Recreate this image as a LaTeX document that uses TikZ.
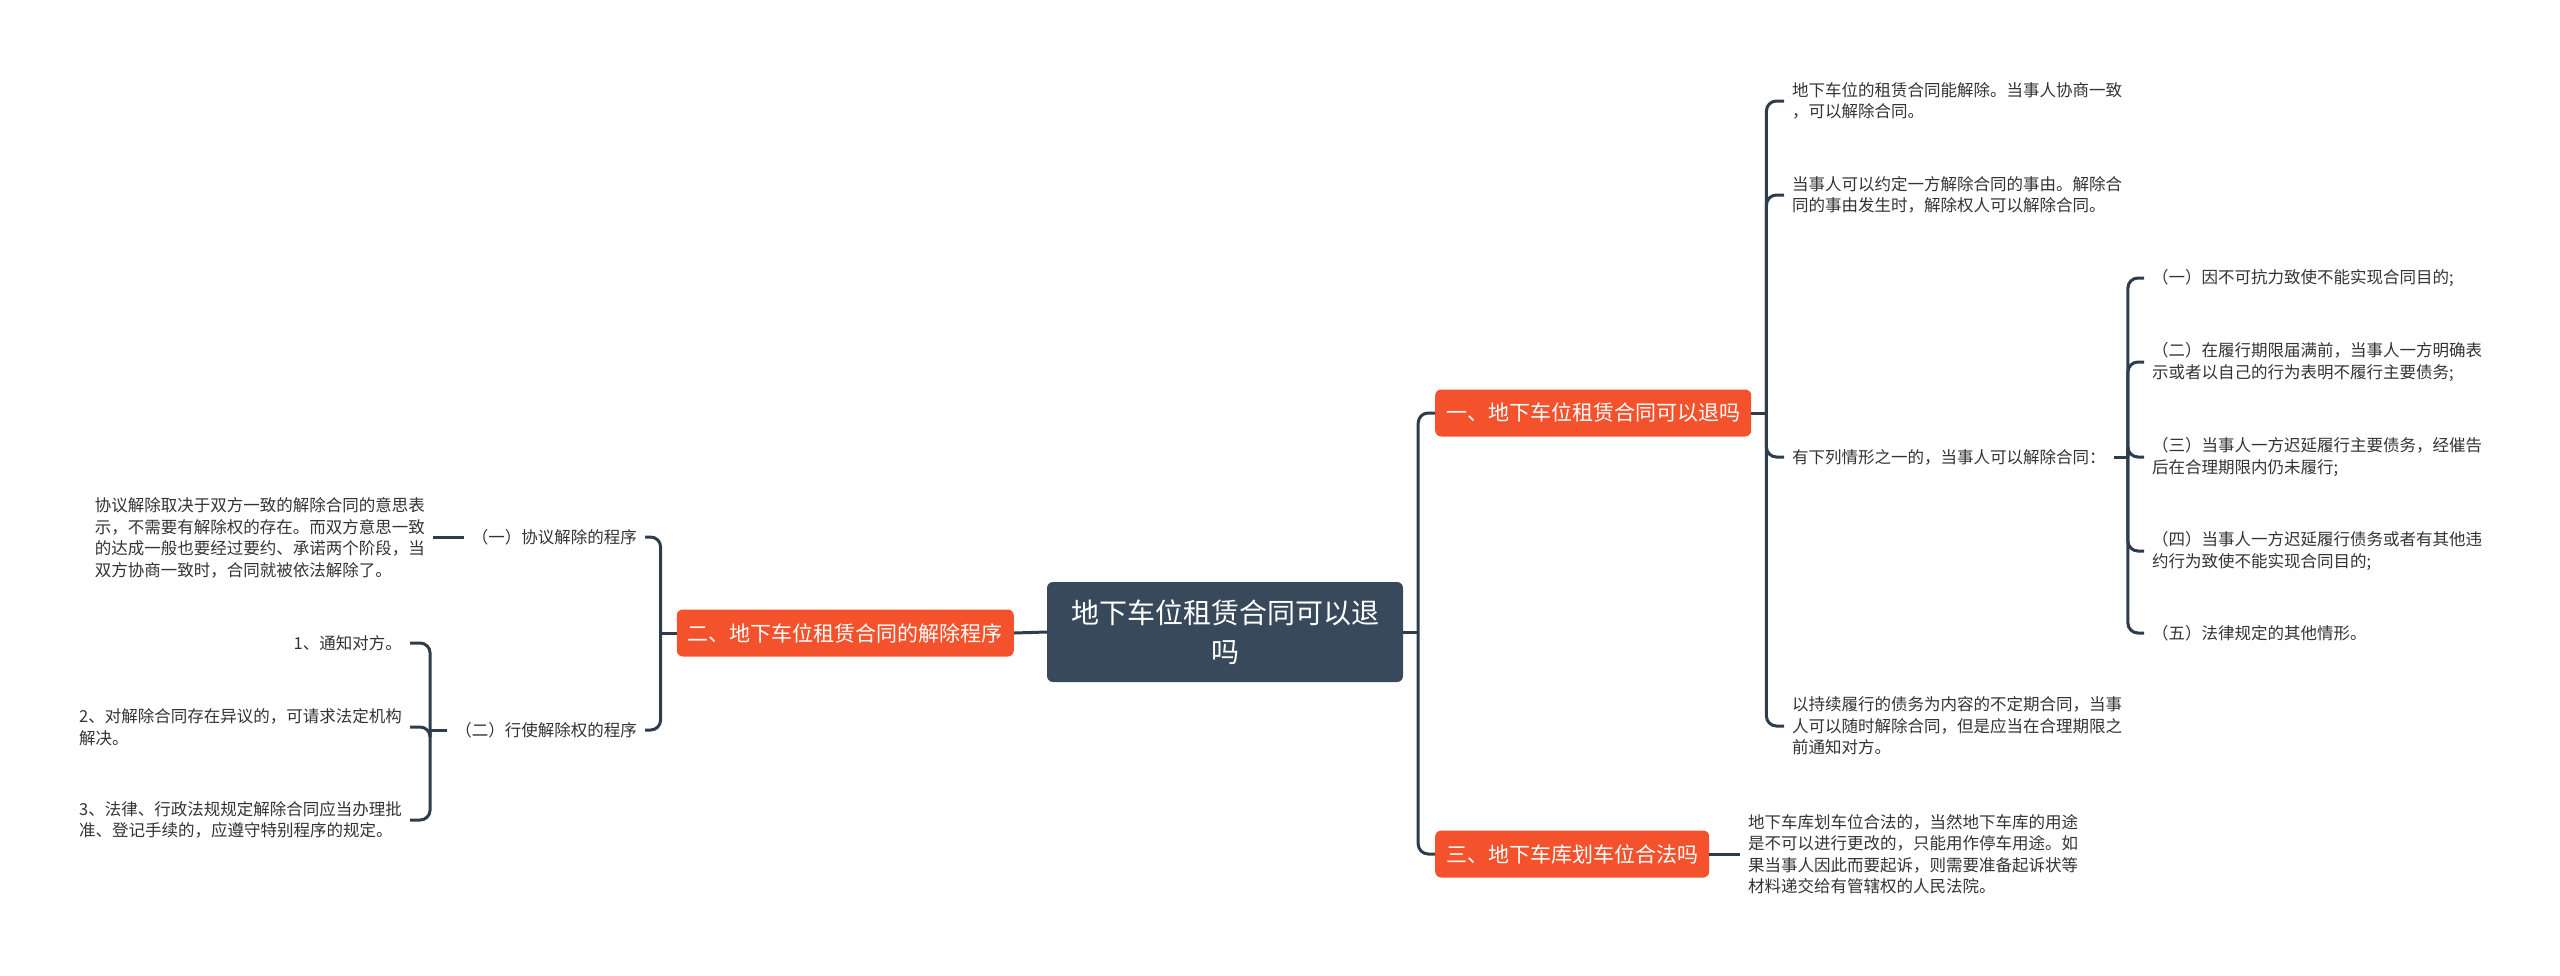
\documentclass[tikz,border=0pt]{standalone}
\usepackage{fontspec}
\setmainfont{Noto Sans CJK SC}
\definecolor{rootcol}{HTML}{37495A}
\definecolor{topiccol}{HTML}{F4522D}
\definecolor{linkcol}{HTML}{2E3D4C}
\definecolor{leafcol}{HTML}{333333}
\tikzset{
  rootbox/.style={fill=rootcol, rounded corners=6pt, text=white, align=center,
    font=\fontsize{28}{39}\selectfont, inner xsep=24pt, minimum height=100pt},
  topicbox/.style={fill=topiccol, rounded corners=6pt, text=white,
    font=\fontsize{21}{26}\selectfont, inner xsep=11pt, minimum height=47pt},
  leaf/.style={text=leafcol, align=left, font=\fontsize{16.5}{21.5}\selectfont, inner sep=8pt},
  link/.style={draw=linkcol, line width=3pt, rounded corners=10pt},
}
\begin{document}
\begin{tikzpicture}[x=1pt, y=-1pt]
        \useasboundingbox (0,0) rectangle (2560,975);

        % 中心主题
        \node[rootbox] (root) at (1225,632) {地下车位租赁合同可以退\\吗};

        % 一级分支
        \node[topicbox, anchor=west] (b1) at (1435,413) {一、地下车位租赁合同可以退吗};
        \node[topicbox, anchor=east] (b2) at (1014,633) {二、地下车位租赁合同的解除程序};
        \node[topicbox, anchor=west] (b3) at (1435,854) {三、地下车库划车位合法吗};

        % 分支一的内容
        \node[leaf, anchor=west] (e1) at (1784,101) {地下车位的租赁合同能解除。当事人协商一致\\，可以解除合同。};
        \node[leaf, anchor=west] (e2) at (1784,195) {当事人可以约定一方解除合同的事由。解除合\\同的事由发生时，解除权人可以解除合同。};
        \node[leaf, anchor=west] (e3) at (1784,457) {有下列情形之一的，当事人可以解除合同：};
        \node[leaf, anchor=west] (e4) at (1784,726) {以持续履行的债务为内容的不定期合同，当事\\人可以随时解除合同，但是应当在合理期限之\\前通知对方。};

        \node[leaf, anchor=west] (f1) at (2144,278) {（一）因不可抗力致使不能实现合同目的;};
        \node[leaf, anchor=west] (f2) at (2144,362) {（二）在履行期限届满前，当事人一方明确表\\示或者以自己的行为表明不履行主要债务;};
        \node[leaf, anchor=west] (f3) at (2144,457) {（三）当事人一方迟延履行主要债务，经催告\\后在合理期限内仍未履行;};
        \node[leaf, anchor=west] (f4) at (2144,551) {（四）当事人一方迟延履行债务或者有其他违\\约行为致使不能实现合同目的;};
        \node[leaf, anchor=west] (f5) at (2144,633) {（五）法律规定的其他情形。};

        % 分支三的内容
        \node[leaf, anchor=west] (g1) at (1740,854) {地下车库划车位合法的，当然地下车库的用途\\是不可以进行更改的，只能用作停车用途。如\\果当事人因此而要起诉，则需要准备起诉状等\\材料递交给有管辖权的人民法院。};

        % 分支二的内容
        \node[leaf, anchor=east] (c1) at (645,537) {（一）协议解除的程序};
        \node[leaf, anchor=east] (c2) at (645,730) {（二）行使解除权的程序};
        \node[leaf, anchor=east] (h1) at (433,538) {协议解除取决于双方一致的解除合同的意思表\\示，不需要有解除权的存在。而双方意思一致\\的达成一般也要经过要约、承诺两个阶段，当\\双方协商一致时，合同就被依法解除了。};
        \node[leaf, anchor=east] (d1) at (410,643) {1、通知对方。};
        \node[leaf, anchor=east] (d2) at (410,727) {2、对解除合同存在异议的，可请求法定机构\\解决。};
        \node[leaf, anchor=east] (d3) at (410,820) {3、法律、行政法规规定解除合同应当办理批\\准、登记手续的，应遵守特别程序的规定。};

        % 连线
        \draw[link] (root.east) -- ++(15,0) coordinate (rj);
        \draw[link] (rj) |- (b1.west);
        \draw[link] (rj) |- (b3.west);
        \draw[link] (root.west) -- (b2.east);

        \draw[link] (b1.east) -- ++(15,0) coordinate (j1);
        \draw[link] (j1) |- (e1.west);
        \draw[link] (j1) |- (e2.west);
        \draw[link] (j1) |- (e3.west);
        \draw[link] (j1) |- (e4.west);

        \draw[link] (e3.east) -- ++(14,0) coordinate (j3);
        \draw[link] (j3) |- (f1.west);
        \draw[link] (j3) |- (f2.west);
        \draw[link] (j3) |- (f3.west);
        \draw[link] (j3) |- (f4.west);
        \draw[link] (j3) |- (f5.west);

        \draw[link] (b3.east) -- (b3.east -| g1.west);

        \draw[link] (b2.west) -- ++(-16,0) coordinate (j2);
        \draw[link] (j2) |- (c1.east);
        \draw[link] (j2) |- (c2.east);
        \draw[link] (c1.west) -- (c1.west -| h1.east);

        \draw[link] (c2.west) -- ++(-17,0) coordinate (j4);
        \draw[link] (j4) |- (d1.east);
        \draw[link] (j4) |- (d2.east);
        \draw[link] (j4) |- (d3.east);
\end{tikzpicture}
\end{document}
